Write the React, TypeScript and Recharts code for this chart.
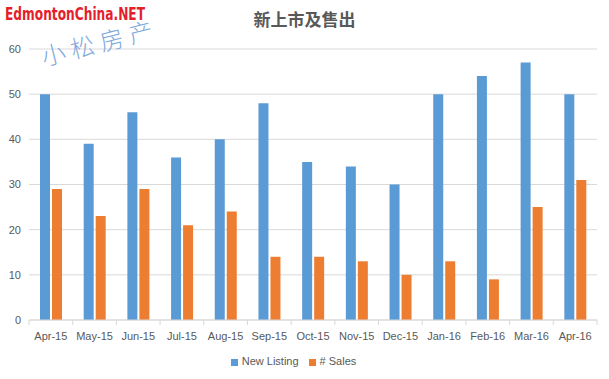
import { BarChart, Bar, XAxis, YAxis, CartesianGrid, Legend } from 'recharts';

const months = ['Apr-15', 'May-15', 'Jun-15', 'Jul-15', 'Aug-15', 'Sep-15', 'Oct-15', 'Nov-15', 'Dec-15', 'Jan-16', 'Feb-16', 'Mar-16', 'Apr-16'];
const newListing = [50, 39, 46, 36, 40, 48, 35, 34, 30, 50, 54, 57, 50];
const sales = [29, 23, 29, 21, 24, 14, 14, 13, 10, 13, 9, 25, 31];
const yTicks = [0, 10, 20, 30, 40, 50, 60];

const chartData = months.map((m, i) => ({
  month: m,
  listing: newListing[i],
  sales: sales[i],
}));

const W = 609;
const H = 379;
const PLOT_LEFT = 29;
const PLOT_RIGHT = 597;
const STEP = (PLOT_RIGHT - PLOT_LEFT) / months.length;

// category label plus Excel-style boundary tick marks
const MonthTick = (props: any) => {
  const { x, y, payload, index } = props;
  const left = x - STEP / 2;
  return (
    <g>
      <line x1={left} y1={y - 8} x2={left} y2={y - 3} stroke='#d9d9d9' />
      {index === months.length - 1 && (
        <line x1={left + STEP} y1={y - 8} x2={left + STEP} y2={y - 3} stroke='#d9d9d9' />
      )}
      <text x={x} y={y + 12} textAnchor='middle' fontSize={11} fill='#595959' fontFamily='Liberation Sans, Arial, sans-serif'>
        {payload.value}
      </text>
    </g>
  );
};

const App = () => {
  return (
    <div style={{ position: 'absolute', left: 0, top: 0, width: W, height: H, background: '#fff' }}>
      <BarChart
        width={W}
        height={H}
        data={chartData}
        margin={{ top: 49, right: W - PLOT_RIGHT, left: 0, bottom: 5 }}
        barSize={10}
        barGap={2}
      >
        <CartesianGrid vertical={false} stroke='#d9d9d9' />
        <XAxis
          dataKey='month'
          height={30}
          axisLine={{ stroke: '#d9d9d9' }}
          tickLine={false}
          interval={0}
          tick={<MonthTick />}
        />
        <YAxis
          width={PLOT_LEFT}
          domain={[0, 60]}
          ticks={yTicks}
          axisLine={false}
          tickLine={false}
          tick={{ fontSize: 11, fill: '#595959', fontFamily: 'Liberation Sans, Arial, sans-serif' }}
        />
        <Legend
          verticalAlign='bottom'
          iconType='square'
          iconSize={7}
          height={24}
          itemSorter='dataKey'
          wrapperStyle={{ bottom: 0, fontSize: 11, fontFamily: 'Liberation Sans, Arial, sans-serif', color: '#595959' }}
          formatter={(value: string) => <span style={{ color: '#595959' }}>{value}</span>}
        />
        <Bar dataKey='listing' name='New Listing' fill='#5b9bd5' isAnimationActive={false} />
        <Bar dataKey='sales' name='# Sales' fill='#ed7d31' isAnimationActive={false} />
      </BarChart>

      <svg width={W} height={80} style={{ position: 'absolute', left: 0, top: 0, pointerEvents: 'none' }}>
        <text
          x={5}
          y={20}
          textLength={140}
          lengthAdjust='spacingAndGlyphs'
          fontFamily='Liberation Sans Narrow, DejaVu Sans Condensed, sans-serif'
          fontWeight='bold'
          fontSize={18}
          fill='#e41e2b'
        >
          EdmontonChina.NET
        </text>
        <text
          x={W / 2}
          y={26}
          textAnchor='middle'
          fontFamily='Noto Sans CJK SC, sans-serif'
          fontWeight='bold'
          fontSize={17}
          fill='#595959'
        >
          新上市及售出
        </text>
        <text
          x={44}
          y={66}
          transform='rotate(-14 44 66)'
          fontFamily='Noto Sans CJK SC, sans-serif'
          fontWeight={300}
          fontSize={24}
          letterSpacing={6}
          fill='#7fa9dc'
        >
          小松房产
        </text>
      </svg>
    </div>
  );
};

export default App;
